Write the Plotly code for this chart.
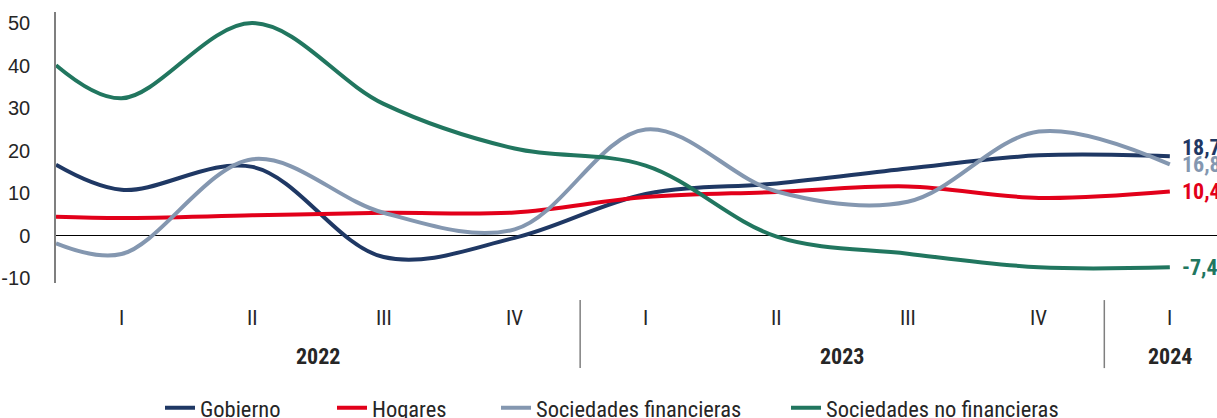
import plotly.graph_objects as go

# Quarter index (1 = I-2022 ... 9 = I-2024); first observation sits on the axis origin
t = [0.5, 1, 2, 3, 4, 5, 6, 7, 8, 9]
quarters = ["I", "II", "III", "IV", "I", "II", "III", "IV", "I"]
quarter_t = [1, 2, 3, 4, 5, 6, 7, 8, 9]
years = ["2022", "2023", "2024"]
year_t = [2.5, 6.5, 9]
year_breaks = [4.5, 8.5]

gobierno = [16.7, 10.8, 16.2, -5.0, -0.5, 9.8, 12.3, 15.8, 18.9, 18.7]
hogares = [4.5, 4.2, 4.8, 5.4, 5.5, 9.1, 10.3, 11.6, 8.9, 10.4]
soc_fin = [-1.8, -4.3, 18.0, 5.4, 1.5, 25.0, 10.4, 8.0, 24.5, 16.8]
soc_nofin = [40.1, 32.3, 50.0, 31.0, 20.5, 16.5, -0.2, -4.2, -7.4, -7.4]

names = ["Gobierno", "Hogares", "Sociedades financieras", "Sociedades no financieras"]
series = [gobierno, hogares, soc_fin, soc_nofin]
colors = ["#1F3864", "#E2001A", "#8497B0", "#21765F"]
end_labels = ["18,7", "10,4", "16,8", "-7,4"]
end_yshift = [9, 0, 0, 0]

NARROW = "Liberation Sans Narrow, Arial Narrow, Roboto Condensed, sans-serif"
REG = "Liberation Sans, Arial, sans-serif"
TXT = "#262626"

fig = go.Figure()
legend_ids = ["legend", "legend2", "legend3", "legend4"]
for name, ys, c, lg in zip(names, series, colors, legend_ids):
    fig.add_trace(go.Scatter(x=t, y=ys, mode="lines", name=name,
                             line=dict(color=c, width=4, shape="spline", smoothing=1.0),
                             legend=lg, hoverinfo="skip"))

annotations = []
for q, x in zip(quarters, quarter_t):
    annotations.append(dict(x=x, y=-0.129, xref="x", yref="paper", text=q, showarrow=False,
                            font=dict(family=NARROW, size=21, color=TXT), xanchor="center", yanchor="middle"))
for yr, x in zip(years, year_t):
    annotations.append(dict(x=x, y=-0.273, xref="x", yref="paper", text="<b>%s</b>" % yr, showarrow=False,
                            font=dict(family=NARROW, size=22, color=TXT), xanchor="center", yanchor="middle"))
for ys, c, lab, ysh in zip(series, colors, end_labels, end_yshift):
    annotations.append(dict(x=t[-1], y=ys[-1], xref="x", yref="y", text="<b>%s</b>" % lab, showarrow=False,
                            font=dict(family=NARROW, size=22, color=c), xanchor="left", yanchor="middle",
                            xshift=10, yshift=ysh))

shapes = []
for xb in year_breaks:
    shapes.append(dict(type="line", xref="x", yref="paper", x0=xb, x1=xb, y0=-0.063, y1=-0.314,
                       line=dict(color="#7F7F7F", width=1.5)))

legend_x = [166, 338, 502, 792]
layout_legends = {}
for lg, px in zip(legend_ids, legend_x):
    layout_legends[lg] = dict(x=(px - 56 - 6) / (1217 - 56), y=-0.462, xanchor="left", yanchor="middle",
                              orientation="h", bgcolor="rgba(0,0,0,0)",
                              font=dict(family=NARROW, size=22.5, color=TXT))

fig.update_layout(
    width=1217, height=418,
    margin=dict(l=56, r=0, t=12, b=135, autoexpand=False),
    paper_bgcolor="white", plot_bgcolor="white",
    showlegend=True,
    xaxis=dict(range=[0.5, 9.36], showgrid=False, zeroline=False, showline=False,
               showticklabels=False, ticks=""),
    yaxis=dict(range=[-11.1, 52.6], tickvals=[-10, 0, 10, 20, 30, 40, 50],
               ticktext=["-10", "0", "10", "20", "30", "40", "50"],
               showgrid=False, zeroline=True, zerolinecolor="black", zerolinewidth=1,
               showline=True, linecolor="#7F7F7F", linewidth=1.5, ticks="",
               ticklabelstandoff=20,
               tickfont=dict(family=REG, size=20, color=TXT)),
    annotations=annotations, shapes=shapes,
    **layout_legends,
)

fig.write_html("out.html")
